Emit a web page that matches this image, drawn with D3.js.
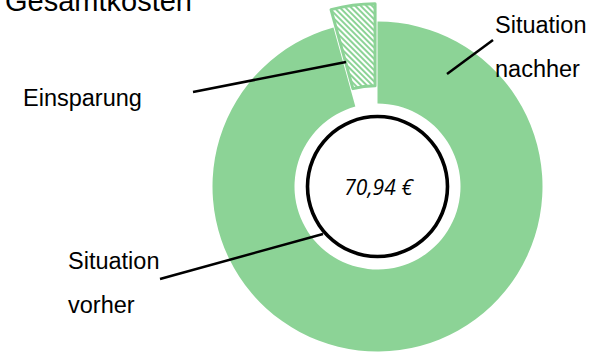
<!DOCTYPE html>
<html>
<head>
<meta charset="utf-8">
<script src="https://cdn.jsdelivr.net/npm/d3@7"></script>
<style>
  body { margin: 0; background: #fff; }
  text { font-family: "Liberation Sans", Arial, sans-serif; fill: #000; }
</style>
</head>
<body>
<div id="chart"></div>
<script>
// data
const categories = ['Situation nachher', 'Einsparung'];
const shares = [95.7, 4.3];              // percent of ring
const innerCategories = ['Situation vorher'];
const innerShares = [100];
const centerLabel = '70,94 €';
const title = 'Gesamtkosten';

const width = 592;
const height = 352;
const cx = 377.5;
const cy = 186.5;
const outerR = 165;
const innerR = 83;
const explode = 18;
const green = '#8cd396';

const svg = d3.select('#chart')
  .append('svg')
  .attr('width', width)
  .attr('height', height);

// hatch pattern for the saving slice
const defs = svg.append('defs');
const pat = defs.append('pattern')
  .attr('id', 'hatch')
  .attr('patternUnits', 'userSpaceOnUse')
  .attr('width', 4)
  .attr('height', 4)
  .attr('patternTransform', 'rotate(-45)');
pat.append('rect').attr('width', 4).attr('height', 4).attr('fill', '#fff');
pat.append('rect').attr('width', 2).attr('height', 4).attr('fill', green);

// title
svg.append('text')
  .attr('x', 5)
  .attr('y', 11)
  .style('font-size', '29px')
  .text(title);

const g = svg.append('g')
  .attr('transform', `translate(${cx}, ${cy})`);

const pie = d3.pie().sort(null);
const arc = d3.arc().innerRadius(innerR).outerRadius(outerR);

const slices = pie(shares);

g.selectAll('path.slice')
  .data(slices)
  .enter()
  .append('path')
  .attr('class', 'slice')
  .attr('d', arc)
  .attr('transform', (d, i) => {
    if (categories[i] !== 'Einsparung') return null;
    const a = (d.startAngle + d.endAngle) / 2;
    return `translate(${Math.sin(a) * explode}, ${-Math.cos(a) * explode})`;
  })
  .attr('fill', (d, i) => categories[i] === 'Einsparung' ? 'url(#hatch)' : green)
  .attr('stroke', (d, i) => categories[i] === 'Einsparung' ? green : 'none')
  .attr('stroke-width', 3)
  .attr('stroke-linejoin', 'round');

// inner ring (Situation vorher)
const innerArc = d3.arc().innerRadius(68.2).outerRadius(71.8);
g.selectAll('path.inner')
  .data(pie(innerShares))
  .enter()
  .append('path')
  .attr('class', 'inner')
  .attr('d', innerArc)
  .attr('fill', '#000');

g.append('text')
  .attr('x', 1)
  .attr('y', 8)
  .attr('text-anchor', 'middle')
  .style('font-family', '"Open Sans", sans-serif')
  .style('font-style', 'italic')
  .style('font-size', '21px')
  .text(centerLabel);

// labels with leader lines
const labels = [
  { name: 'Situation nachher', lines: ['Situation', 'nachher'], x: 495, y: 33, from: [493, 40], to: [447, 74] },
  { name: 'Einsparung', lines: ['Einsparung'], x: 23, y: 106, from: [193, 92], to: [346, 62] },
  { name: 'Situation vorher', lines: ['Situation', 'vorher'], x: 68, y: 269, from: [160, 279], to: [323, 234] }
];

labels.forEach(l => {
  svg.append('line')
    .attr('x1', l.from[0]).attr('y1', l.from[1])
    .attr('x2', l.to[0]).attr('y2', l.to[1])
    .attr('stroke', '#000')
    .attr('stroke-width', 2.5);

  const t = svg.append('text')
    .attr('x', l.x)
    .attr('y', l.y)
    .style('font-size', '23.5px');
  t.selectAll('tspan')
    .data(l.lines)
    .enter()
    .append('tspan')
    .attr('x', l.x)
    .attr('dy', (d, i) => i === 0 ? 0 : 44)
    .text(d => d);
});
</script>
</body>
</html>
